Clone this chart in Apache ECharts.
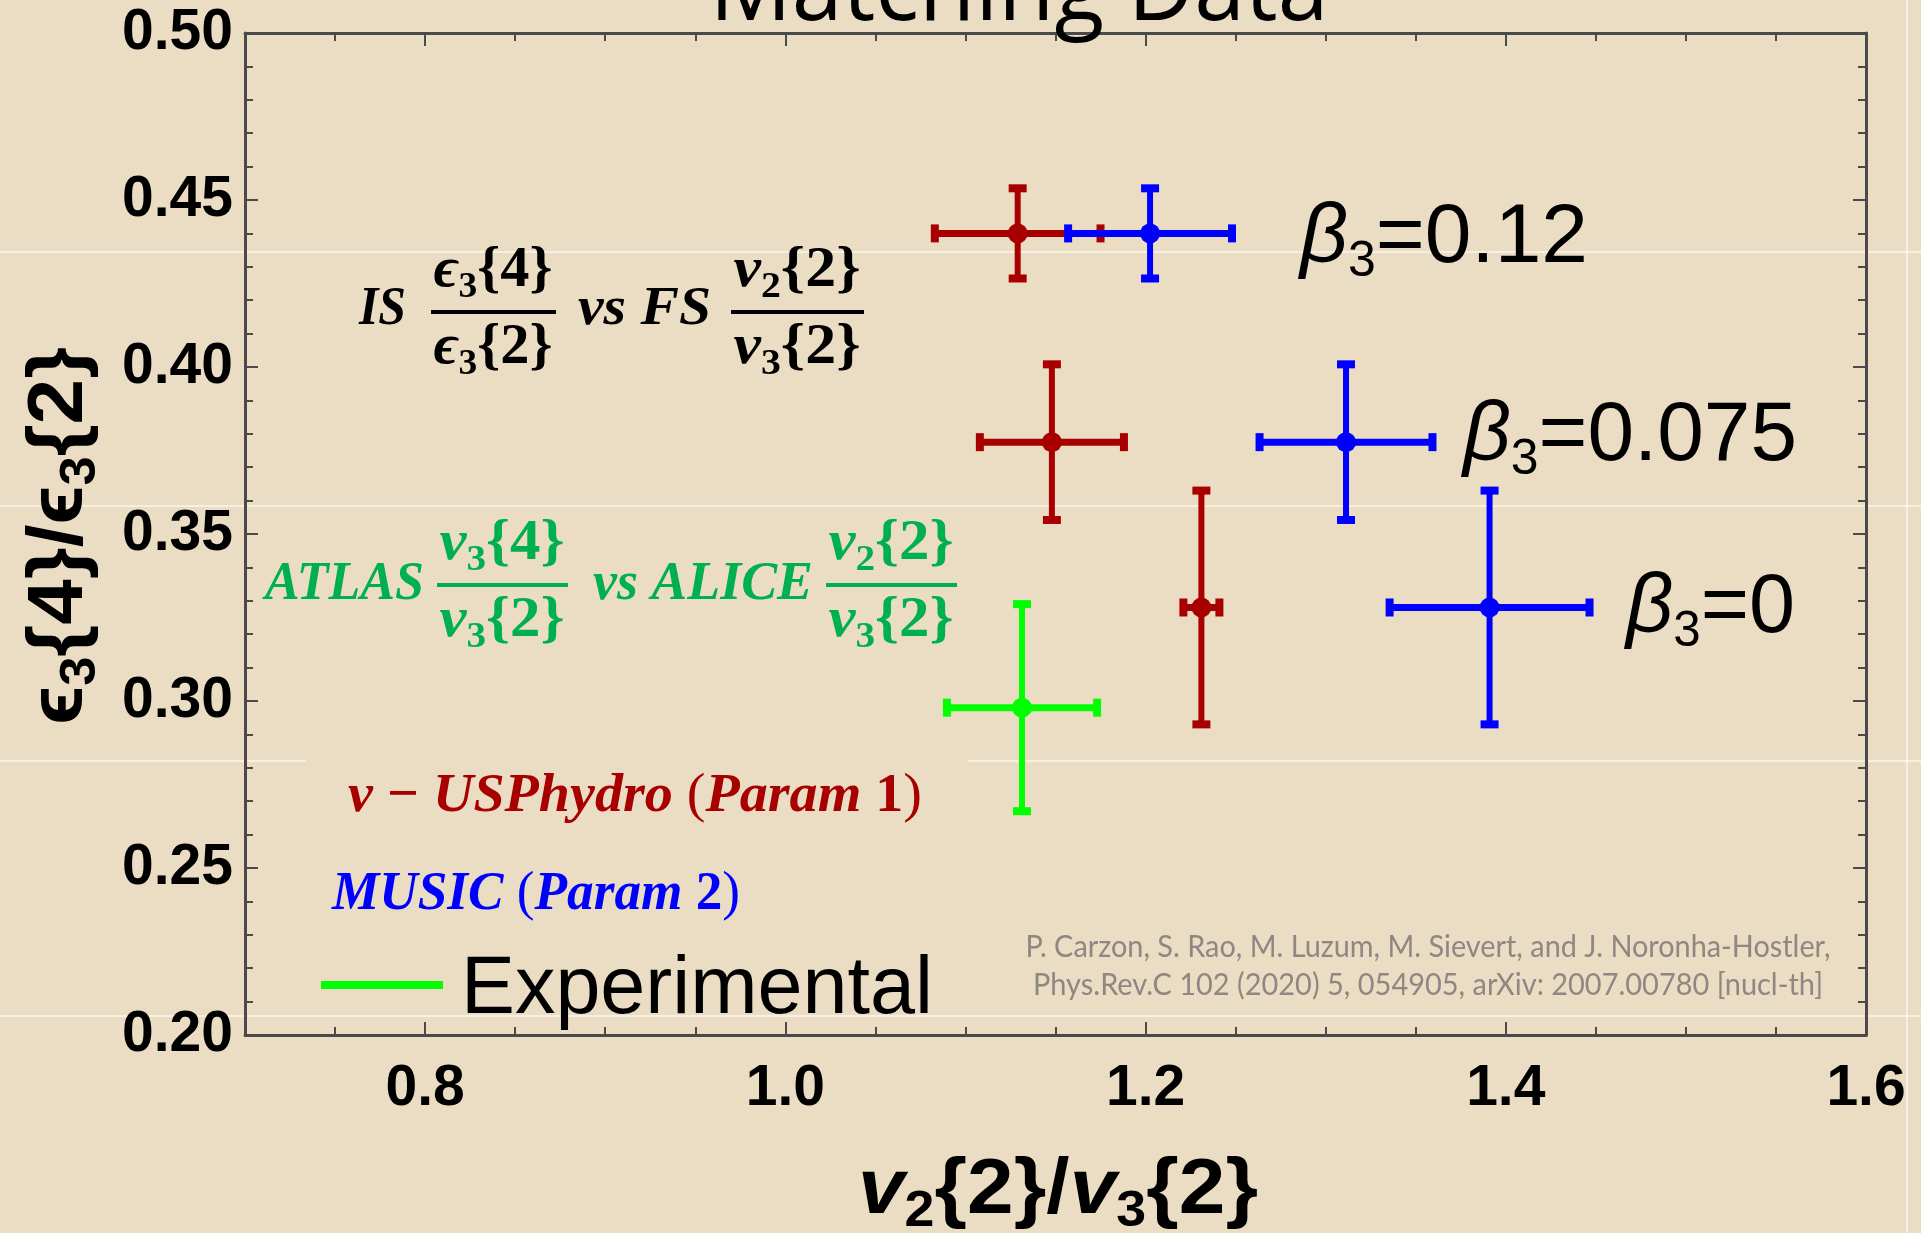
<!DOCTYPE html>
<html>
<head>
<meta charset="utf-8">
<script src="https://cdn.jsdelivr.net/npm/echarts@6/dist/echarts.min.js"></script>
<style>
html,body{margin:0;padding:0;background:#EBDDC4;}
#c{width:1921px;height:1233px;}
</style>
</head>
<body>
<div id="c"></div>
<script>
// ---------------- data ----------------
const modelNames = ['v − USPhydro (Param 1)', 'MUSIC (Param 2)', 'Experimental'];
const beta3Values = ['0.12', '0.075', '0'];

const usphydroV2V3    = [1.129, 1.148, 1.231];
const usphydroV2V3Err = [0.046, 0.040, 0.010];
const usphydroEps     = [0.440, 0.3775, 0.328];
const usphydroEpsErr  = [0.0135, 0.0233, 0.035];

const musicV2V3    = [1.2025, 1.3113, 1.391];
const musicV2V3Err = [0.0455, 0.048, 0.0555];
const musicEps     = [0.440, 0.3775, 0.328];
const musicEpsErr  = [0.0135, 0.0233, 0.035];

const expV2V3    = [1.1314];
const expV2V3Err = [0.0417];
const expEps     = [0.298];
const expEpsErr  = [0.031];

const xMajorTicks = [0.8, 1.0, 1.2, 1.4, 1.6];
const xMinorTicks = [0.75, 0.85, 0.9, 0.95, 1.05, 1.1, 1.15, 1.25, 1.3, 1.35, 1.45, 1.5, 1.55];

// ---------------- helpers ----------------
function rows(xs, xe, ys, ye) { return xs.map((x, i) => [x, ys[i], xe[i], ye[i]]); }

function errorBarRenderer(color) {
  return function (params, api) {
    const x = api.value(0), y = api.value(1), ex = api.value(2), ey = api.value(3);
    const c = api.coord([x, y]);
    const l = api.coord([x - ex, y]);
    const r = api.coord([x + ex, y]);
    const t = api.coord([x, y + ey]);
    const b = api.coord([x, y - ey]);
    const st = { fill: color };
    return {
      type: 'group',
      children: [
        { type: 'line', shape: { x1: l[0], y1: c[1], x2: r[0], y2: c[1] }, style: { stroke: color, lineWidth: 7 } },
        { type: 'line', shape: { x1: c[0], y1: t[1], x2: c[0], y2: b[1] }, style: { stroke: color, lineWidth: 6 } },
        { type: 'rect', shape: { x: l[0] - 4, y: c[1] - 9, width: 8, height: 18 }, style: st },
        { type: 'rect', shape: { x: r[0] - 4, y: c[1] - 9, width: 8, height: 18 }, style: st },
        { type: 'rect', shape: { x: c[0] - 9, y: t[1] - 4, width: 18, height: 8 }, style: st },
        { type: 'rect', shape: { x: c[0] - 9, y: b[1] - 4, width: 18, height: 8 }, style: st },
        { type: 'circle', shape: { cx: c[0], cy: c[1], r: 10 }, style: st }
      ]
    };
  };
}

const mctx = document.createElement('canvas').getContext('2d');
function fontOf(st) { return `${st.fontStyle} ${st.fontWeight} ${st.fontSize}px ${st.fontFamily}`; }
function richText(o) {
  const base = Object.assign({ fontStyle: 'normal', fontWeight: 'normal' }, o.base);
  const rich = {};
  Object.keys(o.rich || {}).forEach(k => { rich[k] = Object.assign({}, base, { fill: o.fill }, o.rich[k]); });
  let w = 0;
  const text = o.tokens.map(([t, k]) => {
    const st = k ? rich[k] : base;
    mctx.font = fontOf(st);
    w += mctx.measureText(t).width;
    return k ? `{${k}|${t}}` : t;
  }).join('');
  const sx = o.width ? o.width / w : 1;
  return {
    type: 'text', x: o.x, y: o.y, rotation: o.rotation || 0, scaleX: sx, z: 20,
    style: Object.assign({}, base, { text: text, rich: rich, fill: o.fill, align: o.align || 'left', verticalAlign: 'middle' })
  };
}
function hline(x1, x2, y, color, w, z) {
  return { type: 'line', z: z, shape: { x1: x1, y1: y, x2: x2, y2: y }, style: { stroke: color, lineWidth: w } };
}

// fonts
const serif = { fontFamily: 'Liberation Serif', fontWeight: 'bold', fontSize: 55 };
const serifRich = { i: { fontStyle: 'italic' }, s: { fontSize: 32, padding: [30, 0, 0, 0] }, p: { fontWeight: 'normal' } };
const serifFrac = { fontFamily: 'Liberation Serif', fontWeight: 'bold', fontSize: 56 };
const fracRich = { i: { fontStyle: 'italic' }, s: { fontSize: 36, padding: [32, 0, 0, 0] } };

function fraction(cx, cy, num, den, color, x1, x2) {
  const w = x2 - x1 - 6;
  return [
    richText({ tokens: num, base: serifFrac, rich: fracRich, x: cx, y: cy - 40, align: 'center', width: w, fill: color }),
    hline(x1, x2, cy, color, 4, 20),
    richText({ tokens: den, base: serifFrac, rich: fracRich, x: cx, y: cy + 37, align: 'center', width: w, fill: color })
  ];
}

const RED = '#A80000', BLUE = '#0000FF', GREEN = '#00FF00', TGREEN = '#00B050', BLACK = '#000';

const graphics = [];
// faint seam lines of the original slide
const seam = 'rgba(255,255,255,0.55)';
graphics.push(hline(0, 1921, 252, seam, 2, 0));
graphics.push(hline(0, 1921, 506, seam, 2, 0));
graphics.push(hline(0, 306, 761, seam, 2, 0));
graphics.push(hline(968, 1921, 761, seam, 2, 0));
graphics.push(hline(0, 1921, 1016, seam, 2, 0));
graphics.push({ type: 'line', z: 0, shape: { x1: 1907, y1: 0, x2: 1907, y2: 1233 }, style: { stroke: seam, lineWidth: 2 } });

// title (cut off at top)
graphics.push(richText({ tokens: [['Matching Data', null]], base: { fontFamily: 'Open Sans', fontSize: 96 }, x: 1019, y: -7, align: 'center', width: 619, fill: BLACK }));

// IS ... vs FS ...
graphics.push(richText({ tokens: [['IS', 'i']], base: serif, rich: serifRich, x: 359, y: 310, width: 47, fill: BLACK }));
graphics.push(...fraction(493, 312, [['ϵ', 'i'], ['3', 's'], ['{4}', null]], [['ϵ', 'i'], ['3', 's'], ['{2}', null]], BLACK, 431, 556));
graphics.push(richText({ tokens: [['vs FS', 'i']], base: serif, rich: serifRich, x: 578, y: 310, width: 133, fill: BLACK }));
graphics.push(...fraction(797, 312, [['v', 'i'], ['2', 's'], ['{2}', null]], [['v', 'i'], ['3', 's'], ['{2}', null]], BLACK, 731, 864));

// ATLAS ... vs ALICE ...
graphics.push(richText({ tokens: [['ATLAS', 'i']], base: serif, rich: serifRich, x: 265, y: 585, width: 159, fill: TGREEN }));
graphics.push(...fraction(502, 585, [['v', 'i'], ['3', 's'], ['{4}', null]], [['v', 'i'], ['3', 's'], ['{2}', null]], TGREEN, 437, 568));
graphics.push(richText({ tokens: [['vs ALICE', 'i']], base: serif, rich: serifRich, x: 593, y: 585, width: 220, fill: TGREEN }));
graphics.push(...fraction(891, 585, [['v', 'i'], ['2', 's'], ['{2}', null]], [['v', 'i'], ['3', 's'], ['{2}', null]], TGREEN, 826, 957));

// model labels
graphics.push(richText({ tokens: [['v', 'i'], [' − ', null], ['USPhydro', 'i'], [' ', null], ['(', 'p'], ['Param', 'i'], [' 1', null], [')', 'p']],
  base: serif, rich: serifRich, x: 348, y: 797, width: 574, fill: RED }));
graphics.push(richText({ tokens: [['MUSIC', 'i'], [' ', null], ['(', 'p'], ['Param', 'i'], [' 2', null], [')', 'p']],
  base: serif, rich: serifRich, x: 332, y: 895, width: 408, fill: BLUE }));

// Experimental legend
graphics.push(hline(321, 443, 985, GREEN, 8, 20));
graphics.push(richText({ tokens: [[modelNames[2], null]], base: { fontFamily: 'Liberation Sans', fontSize: 82 }, x: 461, y: 990, width: 472, fill: BLACK }));

// beta labels
const betaBase = { fontFamily: 'Liberation Sans', fontSize: 84 };
const betaRich = { b: { fontStyle: 'italic' }, s: { fontSize: 50, padding: [46, 0, 0, 0] } };
const betaPos = [[1300, 239, 288], [1463, 437, 334], [1626, 609, 169]];
beta3Values.forEach((v, i) => {
  graphics.push(richText({ tokens: [['β', 'b'], ['3', 's'], ['=' + v, null]], base: betaBase, rich: betaRich,
    x: betaPos[i][0], y: betaPos[i][1], width: betaPos[i][2], fill: BLACK }));
});

// citation
const citeBase = { fontFamily: 'Lato', fontSize: 30 };
graphics.push(richText({ tokens: [['P. Carzon, S. Rao, M. Luzum, M. Sievert, and J. Noronha-Hostler,', null]], base: citeBase, x: 1428, y: 947, align: 'center', width: 805, fill: '#8E8782' }));
graphics.push(richText({ tokens: [['Phys.Rev.C 102 (2020) 5, 054905, arXiv: 2007.00780 [nucl-th]', null]], base: citeBase, x: 1428, y: 985, align: 'center', width: 790, fill: '#8E8782' }));

// axis names
const nameBase = { fontFamily: 'Liberation Sans', fontWeight: 'bold', fontSize: 78 };
const nameRich = { v: { fontStyle: 'italic' }, s: { fontSize: 50, padding: [42, 0, 0, 0] } };
graphics.push(richText({ tokens: [['v', 'v'], ['2', 's'], ['{2}/', null], ['v', 'v'], ['3', 's'], ['{2}', null]],
  base: nameBase, rich: nameRich, x: 1058, y: 1191, align: 'center', width: 400, fill: BLACK }));
graphics.push(richText({ tokens: [['ϵ', null], ['3', 's'], ['{4}/', null], ['ϵ', null], ['3', 's'], ['{2}', null]],
  base: nameBase, rich: nameRich, x: 60, y: 536, align: 'center', width: 378, rotation: Math.PI / 2, fill: BLACK }));

// ---------------- chart ----------------
const AX = '#4a4a4a';
const labelFont = { fontFamily: 'Liberation Sans', fontWeight: 'bold', fontSize: 57, color: '#000' };

const chart = echarts.init(document.getElementById('c'), null, { renderer: 'canvas' });
chart.setOption({
  backgroundColor: '#EBDDC4',
  animation: false,
  grid: { left: 245, right: 55, top: 33, bottom: 198, outerBoundsMode: 'none' },
  xAxis: [
    { type: 'value', min: 0.7, max: 1.6, position: 'bottom', z: 5,
      axisLine: { show: true, lineStyle: { color: AX, width: 3 } },
      axisTick: { show: true, inside: true, length: 13, customValues: xMajorTicks, lineStyle: { color: AX, width: 2 } },
      axisLabel: Object.assign({ customValues: xMajorTicks, margin: 26, formatter: v => v.toFixed(1) }, labelFont),
      splitLine: { show: false } },
    { type: 'value', min: 0.7, max: 1.6, position: 'bottom', z: 5,
      axisLine: { show: false },
      axisTick: { show: true, inside: true, length: 8, customValues: xMinorTicks, lineStyle: { color: AX, width: 2 } },
      axisLabel: { show: false }, splitLine: { show: false } },
    { type: 'value', min: 0.7, max: 1.6, position: 'top', z: 5,
      axisLine: { show: true, lineStyle: { color: AX, width: 3 } },
      axisTick: { show: true, inside: true, length: 13, customValues: xMajorTicks, lineStyle: { color: AX, width: 2 } },
      axisLabel: { show: false }, splitLine: { show: false } },
    { type: 'value', min: 0.7, max: 1.6, position: 'top', z: 5,
      axisLine: { show: false },
      axisTick: { show: true, inside: true, length: 8, customValues: xMinorTicks, lineStyle: { color: AX, width: 2 } },
      axisLabel: { show: false }, splitLine: { show: false } }
  ],
  yAxis: [
    { type: 'value', min: 0.2, max: 0.5, interval: 0.05, position: 'left', z: 5,
      axisLine: { show: true, lineStyle: { color: AX, width: 3 } },
      axisTick: { show: true, inside: true, length: 13, lineStyle: { color: AX, width: 2 } },
      minorTick: { show: true, splitNumber: 5, length: 8, lineStyle: { color: AX, width: 2 } },
      axisLabel: Object.assign({ margin: 12, formatter: v => v.toFixed(2) }, labelFont),
      splitLine: { show: false }, minorSplitLine: { show: false } },
    { type: 'value', min: 0.2, max: 0.5, interval: 0.05, position: 'right', z: 5,
      axisLine: { show: true, lineStyle: { color: AX, width: 3 } },
      axisTick: { show: true, inside: true, length: 13, lineStyle: { color: AX, width: 2 } },
      minorTick: { show: true, splitNumber: 5, length: 8, lineStyle: { color: AX, width: 2 } },
      axisLabel: { show: false },
      splitLine: { show: false }, minorSplitLine: { show: false } }
  ],
  series: [
    { name: modelNames[0], type: 'custom', xAxisIndex: 0, yAxisIndex: 0, z: 3,
      dimensions: ['x', 'y', 'xErr', 'yErr'], encode: { x: 0, y: 1 },
      renderItem: errorBarRenderer(RED), data: rows(usphydroV2V3, usphydroV2V3Err, usphydroEps, usphydroEpsErr) },
    { name: modelNames[1], type: 'custom', xAxisIndex: 0, yAxisIndex: 0, z: 4,
      dimensions: ['x', 'y', 'xErr', 'yErr'], encode: { x: 0, y: 1 },
      renderItem: errorBarRenderer(BLUE), data: rows(musicV2V3, musicV2V3Err, musicEps, musicEpsErr) },
    { name: modelNames[2], type: 'custom', xAxisIndex: 0, yAxisIndex: 0, z: 4,
      dimensions: ['x', 'y', 'xErr', 'yErr'], encode: { x: 0, y: 1 },
      renderItem: errorBarRenderer(GREEN), data: rows(expV2V3, expV2V3Err, expEps, expEpsErr) }
  ],
  graphic: { elements: graphics }
});
</script>
</body>
</html>
